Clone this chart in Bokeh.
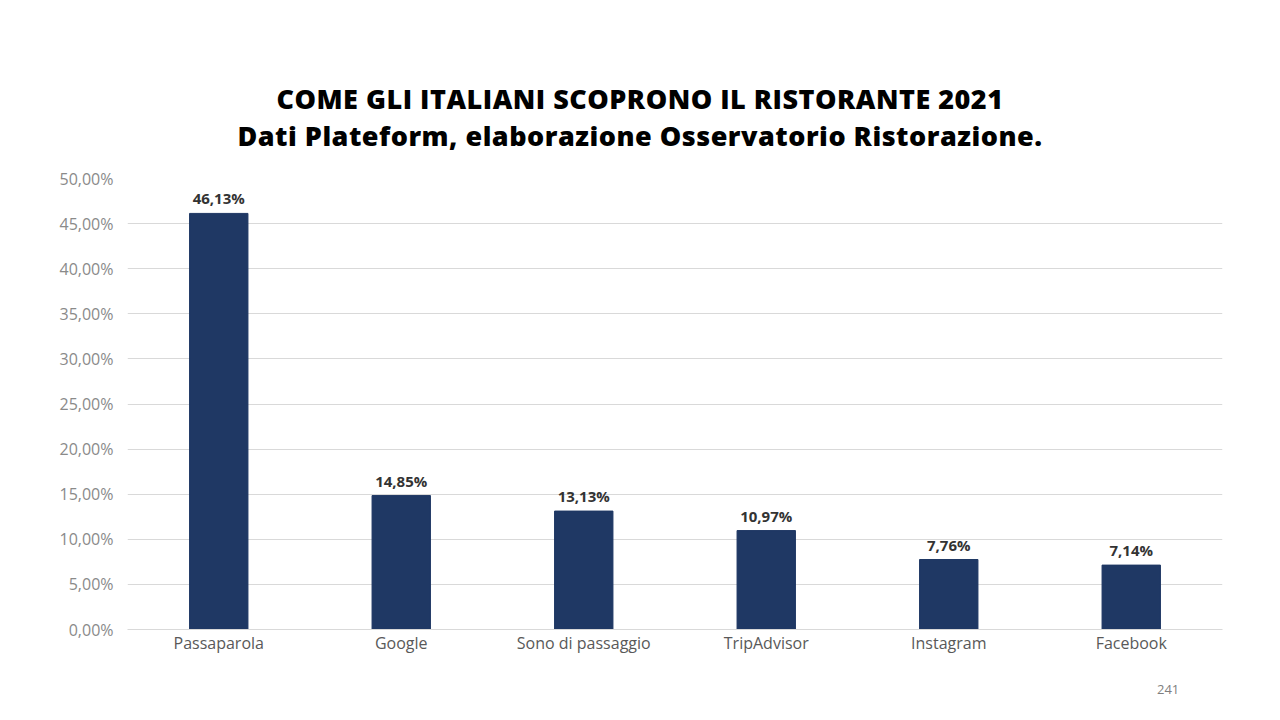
from bokeh.plotting import figure
from bokeh.models import ColumnDataSource, Div, LabelSet, FixedTicker
from bokeh.layouts import column
from bokeh.core.properties import value
from bokeh.embed import file_html
from bokeh.resources import INLINE

categories = ["Passaparola", "Google", "Sono di passaggio", "TripAdvisor", "Instagram", "Facebook"]
values = [46.13, 14.85, 13.13, 10.97, 7.76, 7.14]
value_labels = ["46,13%", "14,85%", "13,13%", "10,97%", "7,76%", "7,14%"]
y_ticks = [0, 5, 10, 15, 20, 25, 30, 35, 40, 45, 50]
y_tick_labels = ["0,00%", "5,00%", "10,00%", "15,00%", "20,00%", "25,00%",
                 "30,00%", "35,00%", "40,00%", "45,00%", "50,00%"]
title_lines = ["COME GLI ITALIANI SCOPRONO IL RISTORANTE 2021",
               "Dati Plateform, elaborazione Osservatorio Ristorazione."]
page_number = "241"

FONT = "Open Sans"

title_div = Div(
    text=("<div style='width:1280px;text-align:center;font-family:\"Open Sans\";font-weight:800;"
          "font-size:27px;line-height:37px;letter-spacing:0.5px;color:#000;padding-top:80px;'>"
          + title_lines[0] + "<br>" + title_lines[1] + "</div>"),
    width=1280, height=158, margin=(0, 0, 0, 0))

source = ColumnDataSource(dict(cat=categories, val=values, lab=value_labels))

p = figure(x_range=categories, y_range=(0, 50), width=1264, height=516,
           output_backend="svg", toolbar_location=None,
           min_border_left=127, min_border_right=42, min_border_top=20,
           min_border_bottom=45, outline_line_color=None, margin=(0, 0, 0, 0))

p.vbar(x="cat", top="val", width=0.32, source=source,
       fill_color="#1f3864", line_color="#1f3864")

labels = LabelSet(x="cat", y="val", text="lab", source=source,
                  text_align="center", text_baseline="bottom", y_offset=5,
                  text_font=value(FONT), text_font_style="bold",
                  text_font_size=value("15px"), text_color="#333333")
p.add_layout(labels)

p.yaxis.ticker = FixedTicker(ticks=y_ticks)
p.yaxis.major_label_overrides = {t: l for t, l in zip(y_ticks, y_tick_labels)}
p.yaxis.axis_line_color = None
p.yaxis.major_tick_line_color = None
p.yaxis.minor_tick_line_color = None
p.yaxis.major_label_text_font = FONT
p.yaxis.major_label_text_font_size = "16px"
p.yaxis.major_label_text_color = "#8a8a8a"
p.yaxis.major_label_standoff = 8

p.xaxis.axis_line_color = "#d9d9d9"
p.xaxis.major_tick_line_color = None
p.xaxis.minor_tick_line_color = None
p.xaxis.major_label_text_font = FONT
p.xaxis.major_label_text_font_size = "16px"
p.xaxis.major_label_text_color = "#595959"
p.xaxis.major_label_standoff = -4

p.xgrid.grid_line_color = None
p.ygrid.grid_line_color = "#d9d9d9"
p.ygrid.ticker = FixedTicker(ticks=y_ticks)

footer = Div(
    text=("<div style='font-family:\"Open Sans\";font-size:13px;color:#7f7f7f;"
          "padding-left:1157px;padding-top:6px;'>" + page_number + "</div>"),
    width=1264, height=30, margin=(0, 0, 0, 0))

layout = column(title_div, p, footer, spacing=0)

open("out.html", "w").write(file_html(layout, INLINE))
